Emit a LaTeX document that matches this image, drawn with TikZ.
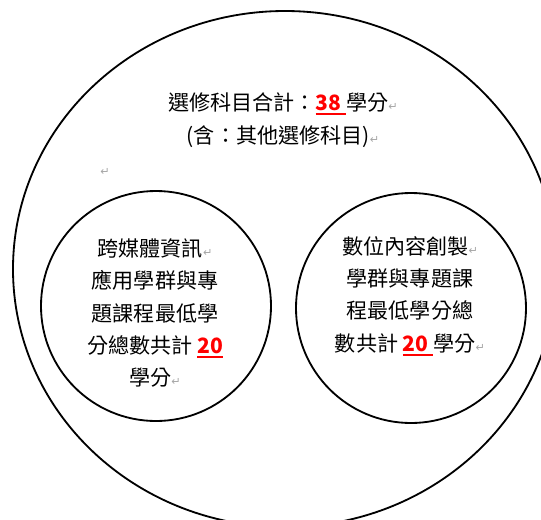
\documentclass[tikz,border=0pt]{standalone}
\usepackage{fontspec}
\setmainfont{Noto Sans CJK TC}
\newfontfamily\retfont{DejaVu Sans}
% marca de párrafo y número destacado
\newcommand{\ret}{{\retfont\fontsize{8}{8}\selectfont\color{gray!70}↵}}
\newcommand{\cred}[1]{\textcolor{red}{\bfseries\setbox0\hbox{#1}\rlap{\rule[-3pt]{\wd0}{1.2pt}}\box0}}

\begin{document}
\begin{tikzpicture}[line width=1.3pt,
    txt/.style={align=center, font=\fontsize{15}{23}\selectfont}]
      % Marco
      \useasboundingbox (0,0) rectangle (13.525,-12.975);
      \clip (0,0) rectangle (13.525,-12.975);

      % Conjunto total
      \draw (7.125,-6.725) ellipse [x radius=6.8, y radius=6.45];

      % Subconjuntos
      \draw (3.9,-7.65) circle (2.875);
      \draw (10.275,-7.7) circle (2.875);

      % Textos
      \node[txt] (total) at (7.075,-3.0)
        {選修科目合計：\cred{38 }學分\ret\\(含：其他選修科目)\ret};
      \node[txt] (blank) at (2.625,-4.3) {\ret};
      \node[txt] (media) at (3.875,-7.825)
        {跨媒體資訊\ret\\應用學群與專\\題課程最低學\\分總數共計 \cred{20}\\學分\ret};
      \node[txt] (digital) at (10.25,-7.4)
        {數位內容創製\ret\\學群與專題課\\程最低學分總\\數共計 \cred{20 }學分\ret};
    \end{tikzpicture}
\end{document}
